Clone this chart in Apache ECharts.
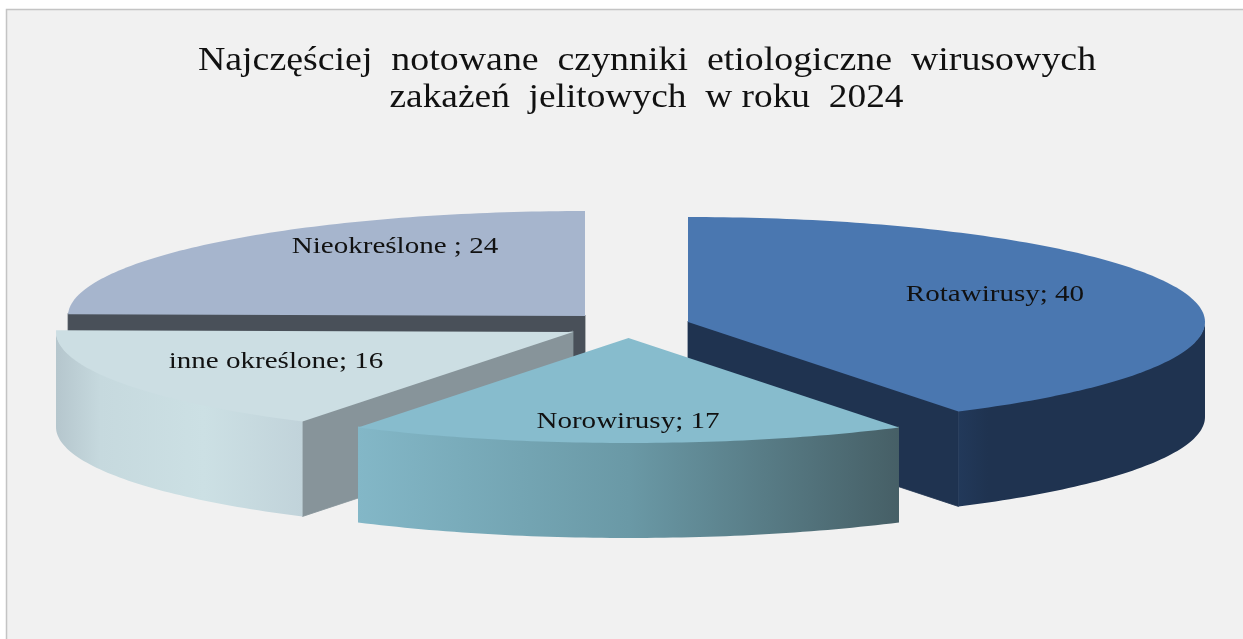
<!DOCTYPE html>
<html>
<head>
<meta charset="utf-8">
<style>html,body{margin:0;padding:0;background:#fff}#c{width:1243px;height:639px}</style>
<script src="https://cdn.jsdelivr.net/npm/echarts@6/dist/echarts.min.js"></script>
</head>
<body>
<div id="c"></div>
<script>
const categories = ['Rotawirusy', 'Norowirusy', 'inne określone', 'Nieokreślone '];
const values = [40, 17, 16, 24];
const titleLines = ['Najczęściej  notowane  czynniki  etiologiczne  wirusowych', 'zakażeń  jelitowych  w roku  2024'];

const RX = 517, RY = 105, DEPTH = 95;
const FONT = 'Liberation Serif, Times New Roman, serif';
const total = values.reduce((a, b) => a + b, 0);
const explode = [[688, 322], [628.5, 338], [573, 332], [585, 316]];
const labelAt = [[995, 295], [628, 422], [276, 362], [395, 247]];
const drawRank = [3, 4, 2, 1];
const styles = [
  { top: '#4a77b0', wall: '#1f3350', side: [[0, '#22395a'], [0.12, '#1f3350'], [1, '#1f3350']] },
  { top: '#87bccd', wall: '#55707a', side: [[0, '#83b7c7'], [0.5, '#6a99a6'], [1, '#465f66']] },
  { top: '#ccdee3', wall: '#87949a', side: [[0, '#b5c6cd'], [0.18, '#c6d9de'], [0.6, '#cce0e4'], [1, '#c1d3da']] },
  { top: '#a6b5cd', wall: '#495059', side: [[0, '#495059'], [1, '#495059']] }
];

function pt(c, deg, dz) {
  const r = deg * Math.PI / 180;
  return [c[0] + RX * Math.sin(r), c[1] - RY * Math.cos(r) + (dz || 0)];
}
function arc(c, a, b, dz) {
  const out = [], n = Math.max(2, Math.ceil(Math.abs(b - a)));
  for (let i = 0; i <= n; i++) out.push(pt(c, a + (b - a) * i / n, dz));
  return out;
}

function renderItem(params, api) {
  const i = params.dataIndex;
  const value = api.value(0);
  let before = 0;
  for (let k = 0; k < i; k++) before += values[k];
  const a = before / total * 360, b = (before + value) / total * 360;
  const c = explode[i], st = styles[i], z = drawRank[i] * 10;
  const children = [];
  const poly = (points, fill, zz, seam) => children.push({
    type: 'polygon', z2: zz, shape: { points },
    style: seam ? { fill, stroke: fill, lineWidth: 0.8 } : { fill, stroke: null }
  });
  const cu = [c[0], c[1] - 1], cd = [c[0], c[1] + DEPTH];
  // radial cut faces that look towards the viewer
  if (Math.sin(a * Math.PI / 180) < -1e-6) poly([cu, pt(c, a, -1), pt(c, a, DEPTH), cd], st.wall, z, true);
  if (Math.sin(b * Math.PI / 180) > 1e-6) poly([cu, pt(c, b, -1), pt(c, b, DEPTH), cd], st.wall, z, true);
  // outer rim: only the front half of the ellipse shows
  const fa = Math.max(a, 90), fb = Math.min(b, 270);
  if (fb > fa) {
    poly(arc(c, fa, fb, -1).concat(arc(c, fb, fa, DEPTH)),
      new echarts.graphic.LinearGradient(0, 0, 1, 0,
        st.side.map(s => ({ offset: s[0], color: s[1] }))), z + 1);
  }
  // top face
  poly([c].concat(arc(c, a, b, 0)), st.top, z + 2);
  children.push({
    type: 'text', z2: 100, x: labelAt[i][0], y: labelAt[i][1], scaleX: 1.21, scaleY: 1,
    style: {
      text: categories[i] + '; ' + value, x: 0, y: 0, align: 'center', verticalAlign: 'middle',
      font: '24px ' + FONT, fill: '#111'
    }
  });
  return { type: 'group', children };
}

const chart = echarts.init(document.getElementById('c'), null, { renderer: 'canvas' });
chart.setOption({
  animation: false,
  backgroundColor: '#ffffff',
  graphic: [
    { type: 'rect', z: -10, shape: { x: 6.5, y: 9.5, width: 1300, height: 700 }, style: { fill: '#f1f1f1', stroke: '#c4c4c4', lineWidth: 1.5 } },
    { type: 'text', z: 5, x: 647, y: 61, scaleX: 1.114, style: { text: titleLines[0], x: 0, y: 0, align: 'center', verticalAlign: 'middle', font: '34px ' + FONT, fill: '#111' } },
    { type: 'text', z: 5, x: 646.5, y: 98, scaleX: 1.1, style: { text: titleLines[1], x: 0, y: 0, align: 'center', verticalAlign: 'middle', font: '34px ' + FONT, fill: '#111' } }
  ],
  series: [{
    type: 'custom',
    coordinateSystem: 'none',
    renderItem,
    silent: true,
    data: values.map((v, i) => ({ name: categories[i], value: [v] }))
  }]
});
</script>
</body>
</html>
